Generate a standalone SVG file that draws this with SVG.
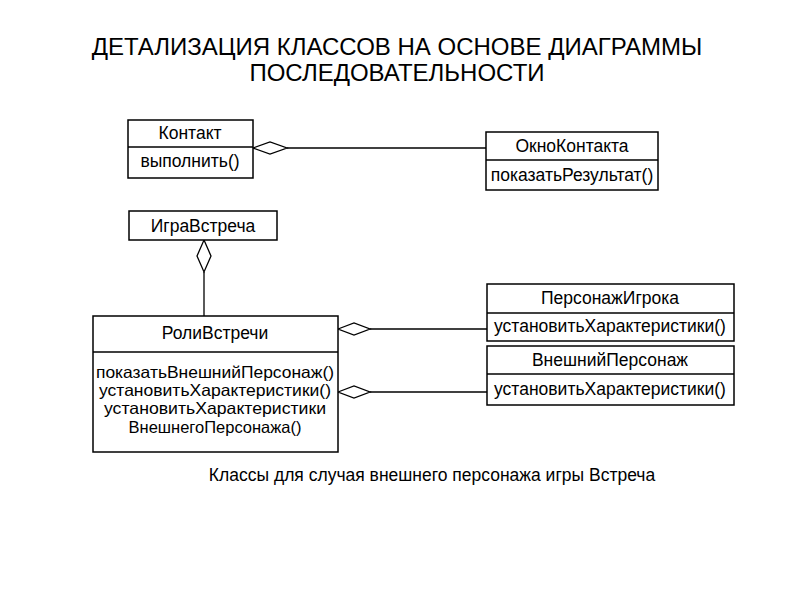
<svg xmlns="http://www.w3.org/2000/svg" width="794" height="595" viewBox="0 0 794 595">
<style>
.b{fill:#fff;stroke:#000;stroke-width:1.5}
.l{stroke:#000;stroke-width:1.3;fill:none}
.d{fill:#fff;stroke:#000;stroke-width:1.3}
text{font-family:"Liberation Sans",Arial,sans-serif;font-size:17.5px;fill:#000;text-anchor:middle}
.t{font-size:24px}
.s{font-size:16.5px}
</style>
<rect width="794" height="595" fill="#fff"/>
<text class="t" x="397" y="55">ДЕТАЛИЗАЦИЯ КЛАССОВ НА ОСНОВЕ ДИАГРАММЫ</text>
<text class="t" x="397" y="81">ПОСЛЕДОВАТЕЛЬНОСТИ</text>
<g id="connectors">
<line class="l" x1="287" y1="148" x2="486" y2="148"/>
<polygon class="d" points="253,148 270,142 287,148 270,154"/>
<line class="l" x1="204" y1="272" x2="204" y2="316"/>
<polygon class="d" points="204,240 211,256 204,272 197,256"/>
<line class="l" x1="370" y1="329" x2="487" y2="329"/>
<polygon class="d" points="338,329 354,323 370,329 354,335"/>
<line class="l" x1="370" y1="392" x2="487" y2="392"/>
<polygon class="d" points="338,392 354,386 370,392 354,398"/>
</g>
<g id="kontakt"><rect class="b" x="128" y="120" width="125" height="58"/><line class="l" x1="128" y1="147" x2="253" y2="147"/><text x="190" y="139">Контакт</text><text x="190" y="167">выполнить()</text></g>
<g id="okno"><rect class="b" x="486" y="132" width="172" height="58"/><line class="l" x1="486" y1="160" x2="658" y2="160"/><text x="572" y="152">ОкноКонтакта</text><text x="572" y="181">показатьРезультат()</text></g>
<g id="igra"><rect class="b" x="129" y="211" width="148" height="29"/><text x="203" y="232">ИграВстреча</text></g>
<g id="roli"><rect class="b" x="93" y="316" width="245" height="136"/><line class="l" x1="93" y1="352" x2="338" y2="352"/><text x="215" y="339">РолиВстречи</text><text class="s" x="215" y="378" textLength="238" lengthAdjust="spacingAndGlyphs">показатьВнешнийПерсонаж()</text><text class="s" x="215" y="396" textLength="232" lengthAdjust="spacingAndGlyphs">установитьХарактеристики()</text><text class="s" x="215" y="414" textLength="222" lengthAdjust="spacingAndGlyphs">установитьХарактеристики</text><text class="s" x="215" y="433">ВнешнегоПерсонажа()</text></g>
<g id="persIgroka"><rect class="b" x="487" y="284" width="247" height="57"/><line class="l" x1="487" y1="313" x2="734" y2="313"/><text x="610" y="304">ПерсонажИгрока</text><text x="610" y="332">установитьХарактеристики()</text></g>
<g id="vneshPers"><rect class="b" x="487" y="346" width="247" height="59"/><line class="l" x1="487" y1="374" x2="734" y2="374"/><text x="610" y="366">ВнешнийПерсонаж</text><text x="610" y="395">установитьХарактеристики()</text></g>
<text x="432" y="481">Классы для случая внешнего персонажа игры Встреча</text>
</svg>
